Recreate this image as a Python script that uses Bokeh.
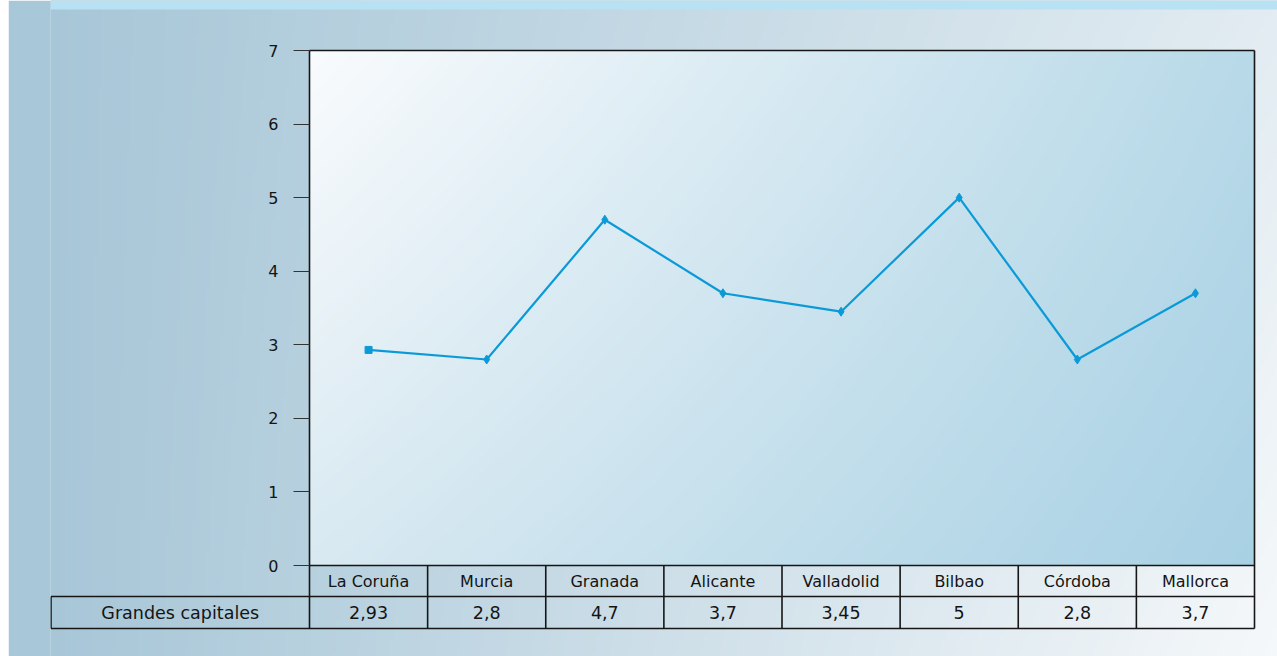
import numpy as np
from bokeh.plotting import figure
from bokeh.layouts import row
from bokeh.models import Range1d, FixedTicker, ColumnDataSource, Spacer
from bokeh.core.properties import value
from bokeh.embed import file_html
from bokeh.resources import INLINE

# ---------------- data ----------------
categories = ["La Coruña", "Murcia", "Granada", "Alicante", "Valladolid", "Bilbao", "Córdoba", "Mallorca"]
values = [2.93, 2.8, 4.7, 3.7, 3.45, 5, 2.8, 3.7]
series_name = "Grandes capitales"
y_ticks = [0, 1, 2, 3, 4, 5, 6, 7]
y_max = 7

# ---------------- geometry (figure pixels) ----------------
W, H = 1269, 656
LEFT = 42                      # frame left edge (y-axis panel width)
PLOT_L, PLOT_R = 301, 1246     # chart area left/right
PLOT_T, PLOT_B = 50, 565       # chart area top/bottom
ROW1_H, ROW2_H = 31, 32        # table row heights
TABLE_L = 42.5                 # left edge of the label cell
STRIP_H = 9

n = len(categories)
cell = (PLOT_R - PLOT_L) / n
pxu = (PLOT_B - PLOT_T) / y_max
x_start = (LEFT - PLOT_L) / cell
x_end = (W - PLOT_L) / cell
y_end = y_max + PLOT_T / pxu
y_start = -(H - PLOT_B) / pxu
y_row = -ROW1_H / pxu
y_bot = -(ROW1_H + ROW2_H) / pxu
x_tab = (TABLE_L - PLOT_L) / cell

FONT = "DejaVu Sans"

p = figure(width=W, height=H,
           x_range=Range1d(x_start, x_end), y_range=Range1d(y_start, y_end),
           x_axis_type=None, output_backend="svg", toolbar_location=None,
           min_border_left=LEFT, min_border_right=0, min_border_top=0, min_border_bottom=0)
p.outline_line_color = None
p.border_fill_color = "#a8c7d8"
p.background_fill_color = "#a8c7d8"
p.ygrid.grid_line_color = None


def to_rgba(rgb):
    ny, nx = rgb.shape[:2]
    img = np.empty((ny, nx), dtype=np.uint32)
    view = img.view(dtype=np.uint8).reshape((ny, nx, 4))
    view[..., :3] = np.clip(np.round(rgb), 0, 255).astype(np.uint8)
    view[..., 3] = 255
    return img


# outer background gradient (darker left, lighter bottom-right)
nx, ny = 340, 180
u = np.linspace(0, 1, nx)[None, :]
v = np.linspace(1, 0, ny)[:, None]       # row 0 = bottom
t = u * (0.75 + 0.25 * v)
c0 = np.array([167, 198, 215], float)
c1 = np.array([245, 248, 250], float)
outer = c0 + (c1 - c0) * t[..., None]
p.image_rgba(image=[to_rgba(outer)], x=x_start, y=y_start,
             dw=x_end - x_start, dh=y_end - y_start)

# top light strip
p.quad(left=x_start, right=x_end, top=y_end, bottom=y_end - STRIP_H / pxu,
       fill_color="#b8e2f4", line_color=None)

# chart area gradient
nx2, ny2 = 300, 160
u2 = np.linspace(0, 1, nx2)[None, :, None]
v2 = np.linspace(1, 0, ny2)[:, None, None]
TL = np.array([249, 251, 253], float)
TR = np.array([184, 217, 232], float)
BL = np.array([216, 233, 241], float)
BR = np.array([168, 209, 228], float)
top = TL * (1 - u2) + TR * u2
bot = BL * (1 - u2) + BR * u2
inner = top * (1 - v2) + bot * v2
p.image_rgba(image=[to_rgba(inner)], x=0, y=0, dw=n, dh=y_max)

# ---------------- table grid & chart frame ----------------
x0s, y0s, x1s, y1s = [], [], [], []
for k in range(n + 1):
    x0s.append(k); x1s.append(k)
    y0s.append(y_bot)
    y1s.append(y_max if k in (0, n) else 0)
for yy, xl in [(y_max, 0), (0, 0), (y_row, x_tab), (y_bot, x_tab)]:
    x0s.append(xl); x1s.append(n); y0s.append(yy); y1s.append(yy)
x0s.append(x_tab); x1s.append(x_tab); y0s.append(y_row); y1s.append(y_bot)
p.segment(x0=x0s, y0=y0s, x1=x1s, y1=y1s, line_color="#161616", line_width=1.6)

# ---------------- series ----------------
xs = [i + 0.5 for i in range(n)]
LINE_C = "#0b9ad8"
p.line(x=xs, y=values, line_color=LINE_C, line_width=2.2)
p.scatter(x=xs[:1], y=values[:1], marker="square", size=7, color=LINE_C)
p.scatter(x=xs[1:], y=values[1:], marker="diamond", size=9, color=LINE_C)

# ---------------- table text ----------------
cat_src = ColumnDataSource(dict(x=xs, y=[y_row / 2] * n, t=categories))
p.text(x="x", y="y", text="t", source=cat_src, text_align="center", text_baseline="middle",
       text_font=value(FONT), text_font_size=value("16px"), text_color="#141414")

val_labels = [f"{v_:g}".replace(".", ",") for v_ in values]
val_src = ColumnDataSource(dict(x=xs, y=[(y_row + y_bot) / 2] * n, t=val_labels))
p.text(x="x", y="y", text="t", source=val_src, text_align="center", text_baseline="middle",
       text_font=value(FONT), text_font_size=value("17.5px"), text_color="#141414")

p.text(x=[x_tab / 2], y=[(y_row + y_bot) / 2], text=[series_name],
       text_align="center", text_baseline="middle",
       text_font=value(FONT), text_font_size=value("17.5px"), text_color="#141414")

# ---------------- y axis ----------------
ax = p.yaxis[0]
ax.fixed_location = 0
ax.ticker = FixedTicker(ticks=y_ticks)
ax.bounds = (0, y_max)
ax.axis_line_color = None
ax.major_tick_out = 16
ax.major_tick_in = 0
ax.minor_tick_out = 0
ax.minor_tick_in = 0
ax.major_tick_line_color = "#333333"
ax.major_tick_line_width = 1
ax.major_label_standoff = 15
ax.major_label_text_font = FONT
ax.major_label_text_font_size = "16px"
ax.major_label_text_color = "#141414"

layout = row(Spacer(width=8, height=H), p)

with open("out.html", "w", encoding="utf-8") as f:
    f.write(file_html(layout, INLINE))
